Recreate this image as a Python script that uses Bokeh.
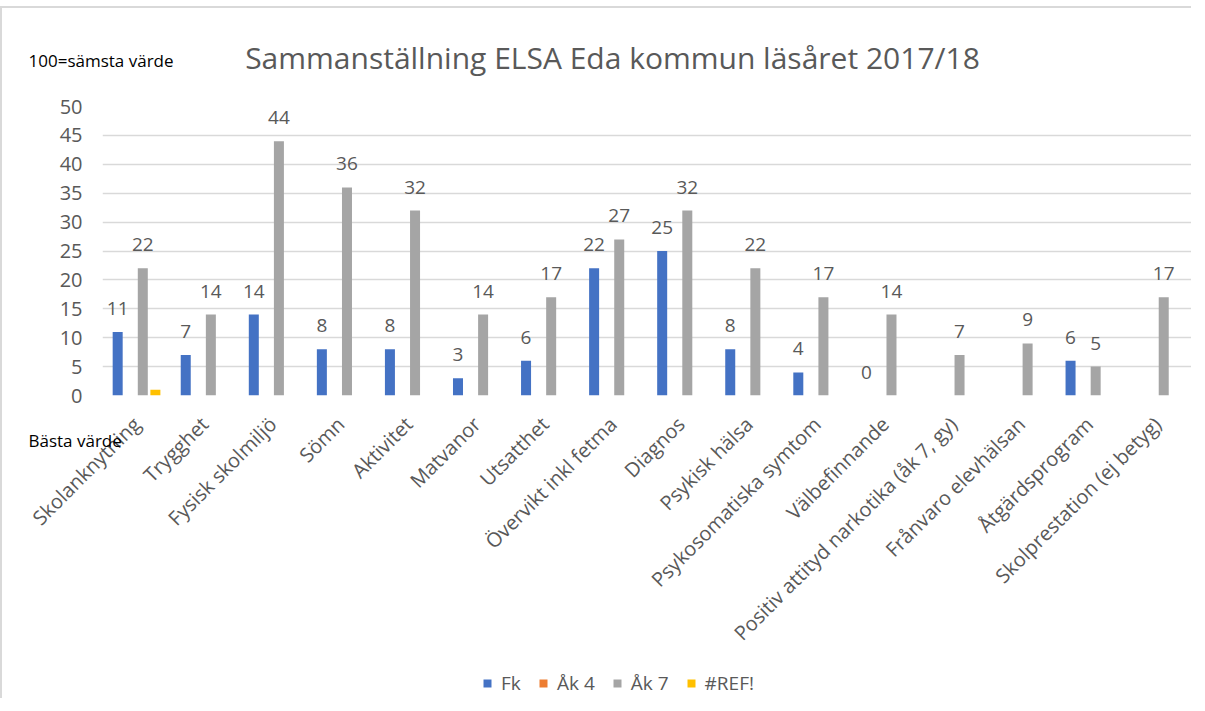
import math
from bokeh.plotting import figure
from bokeh.layouts import column
from bokeh.models import (ColumnDataSource, FactorRange, Range1d, LabelSet, Label,
                          Legend, LegendItem, FixedTicker)
from bokeh.transform import dodge
from bokeh.core.properties import value
from bokeh.embed import file_html
from bokeh.resources import INLINE

nan = float("nan")

categories = ["Skolanknytning", "Trygghet", "Fysisk skolmiljö", "Sömn", "Aktivitet",
              "Matvanor", "Utsatthet", "Övervikt inkl fetma", "Diagnos", "Psykisk hälsa",
              "Psykosomatiska symtom", "Välbefinnande", "Positiv attityd narkotika (åk 7, gy)",
              "Frånvaro elevhälsan", "Åtgärdsprogram", "Skolprestation (ej betyg)"]
fk = [11, 7, 14, 8, 8, 3, 6, 22, 25, 8, 4, 0, None, None, 6, None]
ak4 = [None] * 16
ak7 = [22, 14, 44, 36, 32, 14, 17, 27, 32, 22, 17, 14, 7, 9, 5, 17]
ref = [1, None, None, None, None, None, None, None, None, None, None, None, None, None, None, None]
series_names = ["Fk", "Åk 4", "Åk 7", "#REF!"]
colors = ["#4472C4", "#ED7D31", "#A5A5A5", "#FFC000"]
yticks = [0, 5, 10, 15, 20, 25, 30, 35, 40, 45, 50]

FONT = "Open Sans"
GRAY = "#595959"

def clean(v):
    return [nan if x is None else x for x in v]

src = ColumnDataSource(dict(cat=categories, fk=clean(fk), ak4=clean(ak4),
                            ak7=clean(ak7), ref=clean(ref)))

p = figure(x_range=FactorRange(*categories), y_range=Range1d(0, 50),
           width=1191, height=656, output_backend="svg", toolbar_location=None,
           min_border_left=100, min_border_right=2, min_border_top=98, min_border_bottom=269)
p.styles = {"border-left": "2px solid #d9d9d9", "border-top": "2px solid #d9d9d9",
            "margin-top": "6px"}
p.outline_line_color = None
p.background_fill_color = "white"
p.border_fill_color = "white"

offsets = [-0.277, -0.092, 0.092, 0.277]
cols = ["fk", "ak4", "ak7", "ref"]
bw = 0.147
for c, off, col in zip(cols, offsets, colors):
    p.vbar(x=dodge("cat", off, range=p.x_range), top=c, width=bw, bottom=0,
           source=src, fill_color=col, line_color=None)

# Data labels
fk_cats = [c for c, v in zip(categories, fk) if v is not None]
fk_vals = [v for v in fk if v is not None]
lab_fk = ColumnDataSource(dict(cat=fk_cats, v=fk_vals, t=[str(v) for v in fk_vals]))
lab_7 = ColumnDataSource(dict(cat=categories, v=ak7, t=[str(v) for v in ak7]))
for s, off in [(lab_fk, offsets[0]), (lab_7, offsets[2])]:
    p.add_layout(LabelSet(x=dodge("cat", off, range=p.x_range), y="v", text="t", source=s,
                          y_offset=17, text_align="center", text_baseline="alphabetic",
                          text_font=value(FONT), text_font_size=value("19px"),
                          text_color=GRAY))

# axes
p.yaxis.ticker = FixedTicker(ticks=yticks)
p.yaxis.axis_line_color = None
p.yaxis.major_tick_line_color = None
p.yaxis.minor_tick_line_color = None
p.yaxis.major_tick_in = 0
p.yaxis.major_tick_out = 0
p.yaxis.major_label_standoff = 20
p.yaxis.major_label_text_font = FONT
p.yaxis.major_label_text_font_size = "20px"
p.yaxis.major_label_text_color = GRAY

p.xaxis.axis_line_color = None
p.xaxis.major_tick_line_color = None
p.xaxis.major_tick_in = 0
p.xaxis.major_tick_out = 0
p.xaxis.major_label_orientation = math.pi / 4
p.xaxis.major_label_standoff = 25
p.xaxis.major_label_text_font = FONT
p.xaxis.major_label_text_font_size = "20px"
p.xaxis.major_label_text_color = GRAY

p.xgrid.grid_line_color = None
p.ygrid.grid_line_color = "#d9d9d9"
p.ygrid.grid_line_width = 1.5

# Title and side notes (each in its own panel above the plot area)
p.add_layout(Label(x=510, y=49, x_units="screen", y_units="screen",
                   text="Sammanställning ELSA Eda kommun läsåret 2017/18",
                   text_align="center", text_baseline="middle", text_font=FONT,
                   text_font_size="30px", text_color=GRAY), "above")
p.add_layout(Label(x=-74, y=5, x_units="screen", y_units="screen",
                   text="100=sämsta värde", text_align="left", text_baseline="middle",
                   text_font=FONT, text_font_size="17px", text_color="black"), "above")
p.add_layout(Label(x=-74, y=-398, x_units="screen", y_units="screen",
                   text="Bästa värde", text_align="left", text_baseline="middle",
                   text_font=FONT, text_font_size="17px", text_color="black"), "above")

# Legend strip below the chart (same series, same sources)
pl = figure(x_range=p.x_range, y_range=Range1d(1000, 1001), width=1191, height=36,
            output_backend="svg", toolbar_location=None, min_border=0,
            x_axis_location=None, y_axis_location=None)
pl.styles = {"border-left": "2px solid #d9d9d9"}
pl.outline_line_color = None
pl.grid.visible = False
leg_renderers = []
for c, off, col in zip(cols, offsets, colors):
    r = pl.vbar(x=dodge("cat", off, range=pl.x_range), top=c, width=bw, bottom=0,
                source=src, fill_color=col, line_color=None)
    leg_renderers.append(r)

legend = Legend(items=[LegendItem(label=n, renderers=[r]) for n, r in zip(series_names, leg_renderers)],
                orientation="horizontal", location=(380, 2),
                glyph_width=10, glyph_height=10, label_standoff=9, spacing=17,
                padding=0, margin=0, border_line_color=None, background_fill_alpha=0,
                label_text_font=FONT, label_text_font_size="19px", label_text_color=GRAY)
pl.add_layout(legend, "center")

open("out.html", "w").write(file_html(column(p, pl), INLINE))
